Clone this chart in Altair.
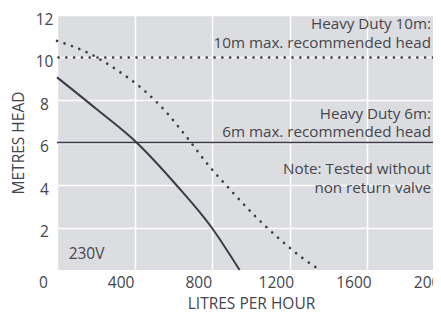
import altair as alt
import pandas as pd

# 6m pump curve (solid)
solid_flow = [0, 200, 410, 615, 797, 941]
solid_head = [9.07, 7.6, 6.0, 4.0, 2.0, 0.0]

# 10m pump curve (dotted)
dotted_flow = [0, 164, 309, 443, 561, 675, 780, 895, 1012, 1136, 1266, 1350]
dotted_head = [10.78, 10.20, 9.41, 8.50, 7.45, 6.18, 4.94, 3.76, 2.62, 1.55, 0.56, 0.03]

# recommended max head lines
max_head_10 = [10]
max_head_6 = [6]

# annotations
note_text = ["Heavy Duty 10m:", "10m max. recommended head",
             "Heavy Duty 6m:", "6m max. recommended head",
             "Note: Tested without", "non return valve"]
note_x = [1928] * 6
note_y = [11.56, 10.68, 7.33, 6.49, 4.73, 3.86]

volt_text = ["230V"]
volt_x = [60]
volt_y = [0.75]

x_ticks = [0, 400, 800, 1200, 1600, 2000]
y_ticks = [2, 4, 6, 8, 10, 12]

FONT = "Open Sans"
TXT = "#45454d"
LINE = "#3b3b47"

xs = alt.Scale(domain=[0, 2000], range=[0, 388], nice=False, zero=False)
ys = alt.Scale(domain=[0, 12], nice=False)

solid_df = pd.DataFrame({"flow": solid_flow, "head": solid_head})
dotted_df = pd.DataFrame({"flow": dotted_flow, "head": dotted_head})
notes_df = pd.DataFrame({"t": note_text, "x": note_x, "y": note_y})
volt_df = pd.DataFrame({"t": volt_text, "x": volt_x, "y": volt_y})

xaxis = alt.Axis(values=x_ticks, format="d", title="LITRES PER HOUR", grid=True, domain=False,
                 ticks=False, tickSize=0, labelPadding=12, labelBaseline="middle",
                 labelOffset=-14, titleX=194, titleY=33, titleBaseline="middle",
                 titleAlign="center", labelFlush=False)
yaxis = alt.Axis(values=y_ticks, format="d", title="METRES HEAD", grid=True, domain=False,
                 ticks=False, tickSize=0, labelPadding=13, labelAlign="center",
                 labelOffset=4, titleX=-39, titleY=127.5, titleAngle=-90,
                 titleAlign="center", titleBaseline="middle", labelFlush=False)

base_solid = alt.Chart(solid_df).mark_line(color=LINE, strokeWidth=2, interpolate="monotone").encode(
    x=alt.X("flow:Q", scale=xs, axis=xaxis),
    y=alt.Y("head:Q", scale=ys, axis=yaxis),
)

dotted = alt.Chart(dotted_df).mark_line(color=LINE, strokeWidth=2.6, strokeDash=[0.1, 7.8],
                                        strokeCap="round", interpolate="monotone").encode(
    x=alt.X("flow:Q", scale=xs), y=alt.Y("head:Q", scale=ys))

rule10 = alt.Chart(pd.DataFrame({"h": max_head_10})).mark_rule(
    color=LINE, strokeWidth=2.6, strokeDash=[0.1, 7.7], strokeCap="round").encode(
    y=alt.Y("h:Q", scale=ys))

rule6 = alt.Chart(pd.DataFrame({"h": max_head_6})).mark_rule(
    color=LINE, strokeWidth=1.4).encode(y=alt.Y("h:Q", scale=ys))

notes = alt.Chart(notes_df).mark_text(align="right", baseline="middle", font=FONT,
                                      fontSize=15.2, color=TXT).encode(
    x=alt.X("x:Q", scale=xs), y=alt.Y("y:Q", scale=ys), text="t:N")

volt = alt.Chart(volt_df).mark_text(align="left", baseline="middle", font=FONT,
                                    fontSize=15.5, color=TXT).encode(
    x=alt.X("x:Q", scale=xs), y=alt.Y("y:Q", scale=ys), text="t:N")

chart = alt.layer(base_solid, dotted, rule10, rule6, notes, volt).properties(
    width=376, height=255,
    autosize=alt.AutoSizeParams(type="none"),
    padding={"left": 49, "top": 7, "right": 0, "bottom": 44},
).configure_view(
    stroke=None, fill="#dcdde0"
).configure_axis(
    gridColor="#ffffff", gridWidth=1.5, labelFont=FONT, titleFont=FONT,
    labelFontSize=15.5, titleFontSize=15.5, labelColor=TXT, titleColor=TXT,
    titleFontWeight="normal"
)

chart.save("out.html", embed_options={"renderer": "svg", "actions": False})
